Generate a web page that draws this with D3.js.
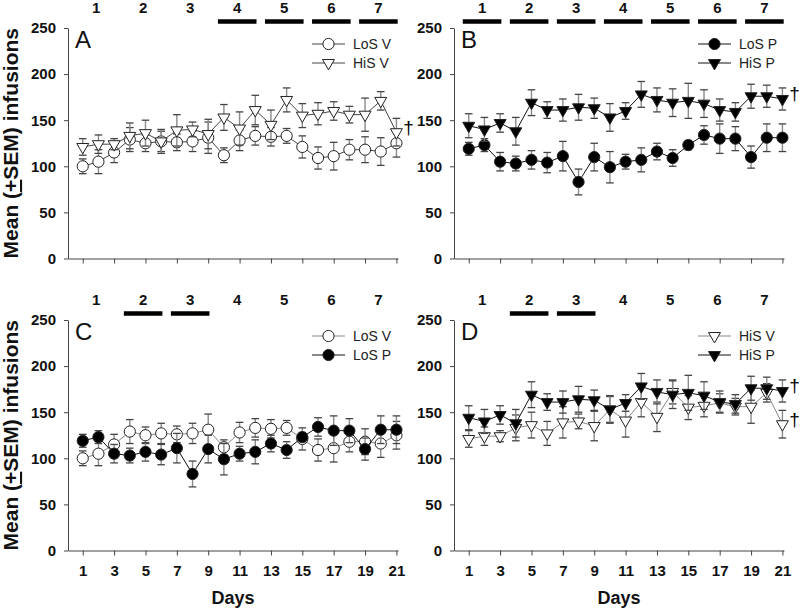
<!DOCTYPE html>
<html>
<head>
<meta charset="utf-8">
<script src="https://cdn.jsdelivr.net/npm/d3@7"></script>
<style>
  html, body { margin: 0; padding: 0; background: #fff; }
  svg { display: block; font-family: "Liberation Sans", Arial, sans-serif; }
</style>
</head>
<body>
<svg id="chart" width="800" height="611"></svg>
<script>
// ---------- data ----------
const days = [1,2,3,4,5,6,7,8,9,10,11,12,13,14,15,16,17,18,19,20,21];
const xTickDays = [1,3,5,7,9,11,13,15,17,19,21];
const yTicks = [0,50,100,150,200,250];
const weekLabels = ["1","2","3","4","5","6","7"];

const losV    = [100,105,115,129,125,127,126,127,131,112,128,133,132,133,121,109,111,118,118,116,125];
const losVSem = [8,13,11,13,9,11,9,11,17,8,11,10,10,8,12,12,15,11,14,15,15];
const hisV    = [121,124,124,133,136,127,139,140,135,153,141,161,145,172,155,157,160,156,156,171,137];
const hisVSem = [9,10,6,14,14,13,17,8,16,14,18,16,16,13,13,12,10,9,18,10,15];
const losP    = [119,123,105,103,107,104,111,83,110,99,105,107,116,109,123,134,130,130,110,131,131];
const losPSem = [7,7,10,8,10,11,16,14,15,17,8,13,9,9,5,10,16,13,12,15,15];
const hisP    = [144,140,147,138,169,161,161,164,163,153,160,178,172,169,171,168,161,159,176,176,173];
const hisPSem = [13,13,10,15,14,9,12,14,11,15,9,14,13,15,19,15,12,10,13,12,12];

// series definitions
const S = {
  losV: {name:"LoS V", vals:losV, sem:losVSem, shape:"circle",   fill:"#fff"},
  hisV: {name:"HiS V", vals:hisV, sem:hisVSem, shape:"triangle", fill:"#fff"},
  losP: {name:"LoS P", vals:losP, sem:losPSem, shape:"circle",   fill:"#000"},
  hisP: {name:"HiS P", vals:hisP, sem:hisPSem, shape:"triangle", fill:"#000"}
};

const panels = [
  {letter:"A", x0:68,  y0:28,  series:[["losV","#444"],["hisV","#444"]], bars:[4,5,6,7], dagger:["hisV"], xLabels:false},
  {letter:"B", x0:454, y0:28,  series:[["losP","#111"],["hisP","#111"]], bars:[1,2,3,4,5,6,7], dagger:["hisP"], xLabels:false},
  {letter:"C", x0:68,  y0:320, series:[["losV","#888"],["losP","#111"]], bars:[2,3], dagger:[], xLabels:true},
  {letter:"D", x0:454, y0:320, series:[["hisV","#888"],["hisP","#111"]], bars:[2,3], dagger:["hisP","hisV"], xLabels:true}
];

const W = 330, H = 230.5;
const svg = d3.select("#chart");

function drawMarker(g, shape, fill, cx, cy) {
  if (shape === "circle") {
    g.append("circle").attr("cx", cx).attr("cy", cy).attr("r", 5.6)
      .attr("fill", fill).attr("stroke", "#222").attr("stroke-width", 1);
  } else {
    g.append("path").attr("d", d3.symbol(d3.symbolTriangle, 62)())
      .attr("transform", `translate(${cx},${cy}) rotate(180)`)
      .attr("fill", fill).attr("stroke", "#222").attr("stroke-width", 1);
  }
}

panels.forEach(p => {
  const x = d3.scaleLinear().domain([0.06, 21.1]).range([p.x0, p.x0 + W]);
  const y = d3.scaleLinear().domain([0, 250]).range([p.y0 + H, p.y0]);
  const g = svg.append("g");

  // y axis
  const ya = g.append("g").attr("transform", `translate(${p.x0},0)`)
    .call(d3.axisLeft(y).tickValues(yTicks).tickSize(4).tickPadding(8).tickSizeOuter(0));
  ya.select(".domain").attr("stroke", "#444");
  ya.selectAll(".tick line").attr("stroke", "#444");
  ya.selectAll("text").attr("font-size", 15).attr("font-weight", "bold").attr("fill", "#111")
    .attr("font-family", "Liberation Sans, Arial, sans-serif");

  // x axis
  const xa = g.append("g").attr("transform", `translate(0,${p.y0 + H})`)
    .call(d3.axisBottom(x).tickValues(xTickDays).tickSize(5).tickPadding(10).tickSizeOuter(0)
      .tickFormat(p.xLabels ? d3.format("d") : () => ""));
  xa.select(".domain").attr("stroke", "#444");
  xa.selectAll(".tick line").attr("stroke", "#444");
  xa.selectAll("text").attr("font-size", 15).attr("font-weight", "bold").attr("fill", "#111")
    .attr("font-family", "Liberation Sans, Arial, sans-serif");

  if (p.xLabels) {
    g.append("text").attr("x", (p.x0 + p.x0 + W) / 2).attr("y", 604)
      .attr("text-anchor", "middle").attr("font-size", 18).attr("font-weight", "bold")
      .attr("fill", "#111").text("Days");
  }

  // week labels and bars
  const labY = p.y0 - 20.5, barY = p.y0 - 6.5;
  weekLabels.forEach((w, i) => {
    const c = 3 * (i + 1) - 1.15;
    g.append("text").attr("x", x(c)).attr("y", labY).attr("text-anchor", "middle")
      .attr("dominant-baseline", "central").attr("font-size", 15).attr("font-weight", "bold")
      .attr("fill", "#111").text(w);
    if (p.bars.includes(i + 1)) {
      g.append("line").attr("x1", x(c - 1.23)).attr("x2", x(c + 1.23))
        .attr("y1", barY).attr("y2", barY).attr("stroke", "#000").attr("stroke-width", 4.5);
    }
  });

  // panel letter
  g.append("text").attr("x", p.x0 + 7).attr("y", p.y0 + 20).attr("font-size", 24)
    .attr("fill", "#111").text(p.letter);

  // series
  p.series.forEach(([key, lineColor]) => {
    const s = S[key];
    const sg = g.append("g");
    // error bars
    days.forEach((d, i) => {
      const cx = x(d), top = y(s.vals[i] + s.sem[i]), bot = y(s.vals[i] - s.sem[i]);
      sg.append("line").attr("x1", cx).attr("x2", cx).attr("y1", top).attr("y2", bot)
        .attr("stroke", "#8a8a8a").attr("stroke-width", 1.4);
      [top, bot].forEach(yy => sg.append("line").attr("x1", cx - 3.8).attr("x2", cx + 3.8)
        .attr("y1", yy).attr("y2", yy).attr("stroke", "#444").attr("stroke-width", 1.3));
    });
    // line
    sg.append("path").datum(days)
      .attr("d", d3.line().x(d => x(d)).y((d, i) => y(s.vals[i])))
      .attr("fill", "none").attr("stroke", lineColor).attr("stroke-width", 1);
    // markers
    days.forEach((d, i) => drawMarker(sg, s.shape, s.fill, x(d), y(s.vals[i])));
  });

  // daggers
  p.dagger.forEach(key => {
    const s = S[key];
    g.append("text").attr("x", x(21) + 12).attr("y", y(s.vals[20]) - 5)
      .attr("text-anchor", "middle").attr("dominant-baseline", "central")
      .attr("font-size", 19).attr("fill", "#000").text("\u2020");
  });

  // legend
  const lx1 = p.x0 + 244, lx2 = p.x0 + 277, tx = p.x0 + 285;
  p.series.forEach(([key, lineColor], j) => {
    const s = S[key];
    const ly = p.y0 + 16 + j * 19;
    g.append("line").attr("x1", lx1).attr("x2", lx2).attr("y1", ly).attr("y2", ly)
      .attr("stroke", lineColor).attr("stroke-width", 1);
    drawMarker(g, s.shape, s.fill, (lx1 + lx2) / 2, ly);
    g.append("text").attr("x", tx).attr("y", ly).attr("dominant-baseline", "central")
      .attr("font-size", 14).attr("fill", "#222").text(s.name);
  });

  // y-axis title (left column only)
  if (p.x0 < 100) {
    const t = svg.append("text")
      .attr("transform", `translate(18,${p.y0 + H / 2}) rotate(-90)`)
      .attr("text-anchor", "middle").attr("font-size", 21).attr("font-weight", "bold")
      .attr("fill", "#111");
    t.append("tspan").text("Mean (");
    t.append("tspan").attr("text-decoration", "underline").text("+");
    t.append("tspan").text("SEM) infusions");
  }
});
</script>
</body>
</html>
